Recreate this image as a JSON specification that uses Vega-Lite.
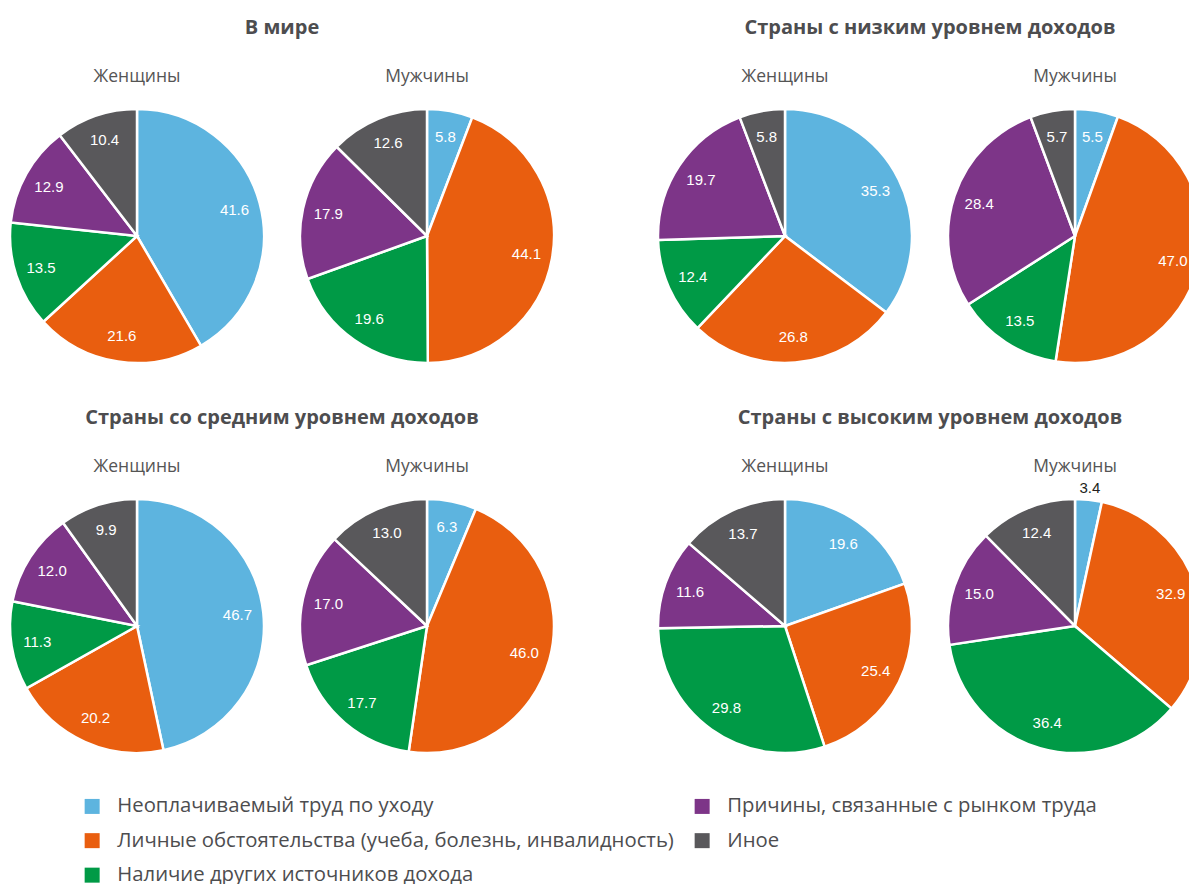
{
  "$schema": "https://vega.github.io/schema/vega-lite/v6.json",
  "autosize": {"type": "pad"},
  "padding": {"left": 5, "top": 17, "right": -14, "bottom": 0},
  "background": "white",
  "data": {
    "values": [
      {"r": "В мире", "s": "Женщины", "c": "Неоплачиваемый труд по уходу", "k": 1, "v": 41.6},
      {"r": "В мире", "s": "Женщины", "c": "Личные обстоятельства (учеба, болезнь, инвалидность)", "k": 2, "v": 21.6},
      {"r": "В мире", "s": "Женщины", "c": "Наличие других источников дохода", "k": 3, "v": 13.5},
      {"r": "В мире", "s": "Женщины", "c": "Причины, связанные с рынком труда", "k": 4, "v": 12.9},
      {"r": "В мире", "s": "Женщины", "c": "Иное", "k": 5, "v": 10.4},
      {"r": "В мире", "s": "Мужчины", "c": "Неоплачиваемый труд по уходу", "k": 1, "v": 5.8},
      {"r": "В мире", "s": "Мужчины", "c": "Личные обстоятельства (учеба, болезнь, инвалидность)", "k": 2, "v": 44.1},
      {"r": "В мире", "s": "Мужчины", "c": "Наличие других источников дохода", "k": 3, "v": 19.6},
      {"r": "В мире", "s": "Мужчины", "c": "Причины, связанные с рынком труда", "k": 4, "v": 17.9},
      {"r": "В мире", "s": "Мужчины", "c": "Иное", "k": 5, "v": 12.6},
      {"r": "Низкий", "s": "Женщины", "c": "Неоплачиваемый труд по уходу", "k": 1, "v": 35.3},
      {"r": "Низкий", "s": "Женщины", "c": "Личные обстоятельства (учеба, болезнь, инвалидность)", "k": 2, "v": 26.8},
      {"r": "Низкий", "s": "Женщины", "c": "Наличие других источников дохода", "k": 3, "v": 12.4},
      {"r": "Низкий", "s": "Женщины", "c": "Причины, связанные с рынком труда", "k": 4, "v": 19.7},
      {"r": "Низкий", "s": "Женщины", "c": "Иное", "k": 5, "v": 5.8},
      {"r": "Низкий", "s": "Мужчины", "c": "Неоплачиваемый труд по уходу", "k": 1, "v": 5.5},
      {"r": "Низкий", "s": "Мужчины", "c": "Личные обстоятельства (учеба, болезнь, инвалидность)", "k": 2, "v": 47.0},
      {"r": "Низкий", "s": "Мужчины", "c": "Наличие других источников дохода", "k": 3, "v": 13.5},
      {"r": "Низкий", "s": "Мужчины", "c": "Причины, связанные с рынком труда", "k": 4, "v": 28.4},
      {"r": "Низкий", "s": "Мужчины", "c": "Иное", "k": 5, "v": 5.7},
      {"r": "Средний", "s": "Женщины", "c": "Неоплачиваемый труд по уходу", "k": 1, "v": 46.7},
      {"r": "Средний", "s": "Женщины", "c": "Личные обстоятельства (учеба, болезнь, инвалидность)", "k": 2, "v": 20.2},
      {"r": "Средний", "s": "Женщины", "c": "Наличие других источников дохода", "k": 3, "v": 11.3},
      {"r": "Средний", "s": "Женщины", "c": "Причины, связанные с рынком труда", "k": 4, "v": 12.0},
      {"r": "Средний", "s": "Женщины", "c": "Иное", "k": 5, "v": 9.9},
      {"r": "Средний", "s": "Мужчины", "c": "Неоплачиваемый труд по уходу", "k": 1, "v": 6.3},
      {"r": "Средний", "s": "Мужчины", "c": "Личные обстоятельства (учеба, болезнь, инвалидность)", "k": 2, "v": 46.0},
      {"r": "Средний", "s": "Мужчины", "c": "Наличие других источников дохода", "k": 3, "v": 17.7},
      {"r": "Средний", "s": "Мужчины", "c": "Причины, связанные с рынком труда", "k": 4, "v": 17.0},
      {"r": "Средний", "s": "Мужчины", "c": "Иное", "k": 5, "v": 13.0},
      {"r": "Высокий", "s": "Женщины", "c": "Неоплачиваемый труд по уходу", "k": 1, "v": 19.6},
      {"r": "Высокий", "s": "Женщины", "c": "Личные обстоятельства (учеба, болезнь, инвалидность)", "k": 2, "v": 25.4},
      {"r": "Высокий", "s": "Женщины", "c": "Наличие других источников дохода", "k": 3, "v": 29.8},
      {"r": "Высокий", "s": "Женщины", "c": "Причины, связанные с рынком труда", "k": 4, "v": 11.6},
      {"r": "Высокий", "s": "Женщины", "c": "Иное", "k": 5, "v": 13.7},
      {"r": "Высокий", "s": "Мужчины", "c": "Неоплачиваемый труд по уходу", "k": 1, "v": 3.4},
      {"r": "Высокий", "s": "Мужчины", "c": "Личные обстоятельства (учеба, болезнь, инвалидность)", "k": 2, "v": 32.9},
      {"r": "Высокий", "s": "Мужчины", "c": "Наличие других источников дохода", "k": 3, "v": 36.4},
      {"r": "Высокий", "s": "Мужчины", "c": "Причины, связанные с рынком труда", "k": 4, "v": 15.0},
      {"r": "Высокий", "s": "Мужчины", "c": "Иное", "k": 5, "v": 12.4}
    ]
  },
  "vconcat": [
    {
      "hconcat": [
        {
          "title": "В мире",
          "transform": [{"filter": "datum.r === 'В мире'"}],
          "facet": {"column": {"field": "s", "type": "nominal", "sort": ["Женщины", "Мужчины"], "header": {"title": null}}},
          "spacing": 26,
          "spec": {
            "width": 256,
            "height": 300,
            "layer": [
              {
                "mark": {"type": "arc", "outerRadius": 127, "stroke": "white", "strokeWidth": 2.5},
                "encoding": {
                  "theta": {"field": "v", "type": "quantitative", "stack": true},
                  "order": {"field": "k", "type": "quantitative"},
                  "color": {"field": "c", "type": "nominal", "legend": {"title": null},
                    "scale": {"domain": ["Неоплачиваемый труд по уходу", "Личные обстоятельства (учеба, болезнь, инвалидность)", "Наличие других источников дохода", "Причины, связанные с рынком труда", "Иное"],
                      "range": ["#5DB4DF", "#E95E0F", "#009A46", "#7D3588", "#59585B"]}}
                }
              },
              {
                "mark": {"type": "text", "radius": 101, "font": "Liberation Sans", "fontSize": 15, "fill": "white"},
                "encoding": {
                  "theta": {"field": "v", "type": "quantitative", "stack": true},
                  "order": {"field": "k", "type": "quantitative"},
                  "text": {"field": "v", "type": "quantitative", "format": ".1f"},
                  "opacity": {"condition": {"test": "datum.v < 4", "value": 0}, "value": 1}
                }
              },
              {
                "mark": {"type": "text", "radius": 139, "clip": true, "font": "Liberation Sans", "fontSize": 15, "fill": "#231F20"},
                "encoding": {
                  "theta": {"field": "v", "type": "quantitative", "stack": true},
                  "order": {"field": "k", "type": "quantitative"},
                  "text": {"field": "v", "type": "quantitative", "format": ".1f"},
                  "opacity": {"condition": {"test": "datum.v < 4", "value": 1}, "value": 0}
                }
              }
            ]
          }
        },
        {
          "title": "Страны с низким уровнем доходов",
          "transform": [{"filter": "datum.r === 'Низкий'"}],
          "facet": {"column": {"field": "s", "type": "nominal", "sort": ["Женщины", "Мужчины"], "header": {"title": null}}},
          "spacing": 26,
          "spec": {
            "width": 256,
            "height": 300,
            "layer": [
              {
                "mark": {"type": "arc", "outerRadius": 127, "stroke": "white", "strokeWidth": 2.5},
                "encoding": {
                  "theta": {"field": "v", "type": "quantitative", "stack": true},
                  "order": {"field": "k", "type": "quantitative"},
                  "color": {"field": "c", "type": "nominal", "legend": {"title": null},
                    "scale": {"domain": ["Неоплачиваемый труд по уходу", "Личные обстоятельства (учеба, болезнь, инвалидность)", "Наличие других источников дохода", "Причины, связанные с рынком труда", "Иное"],
                      "range": ["#5DB4DF", "#E95E0F", "#009A46", "#7D3588", "#59585B"]}}
                }
              },
              {
                "mark": {"type": "text", "radius": 101, "font": "Liberation Sans", "fontSize": 15, "fill": "white"},
                "encoding": {
                  "theta": {"field": "v", "type": "quantitative", "stack": true},
                  "order": {"field": "k", "type": "quantitative"},
                  "text": {"field": "v", "type": "quantitative", "format": ".1f"},
                  "opacity": {"condition": {"test": "datum.v < 4", "value": 0}, "value": 1}
                }
              },
              {
                "mark": {"type": "text", "radius": 139, "clip": true, "font": "Liberation Sans", "fontSize": 15, "fill": "#231F20"},
                "encoding": {
                  "theta": {"field": "v", "type": "quantitative", "stack": true},
                  "order": {"field": "k", "type": "quantitative"},
                  "text": {"field": "v", "type": "quantitative", "format": ".1f"},
                  "opacity": {"condition": {"test": "datum.v < 4", "value": 1}, "value": 0}
                }
              }
            ]
          }
        }
      ],
      "spacing": 94
    },
    {
      "hconcat": [
        {
          "title": "Страны со средним уровнем доходов",
          "transform": [{"filter": "datum.r === 'Средний'"}],
          "facet": {"column": {"field": "s", "type": "nominal", "sort": ["Женщины", "Мужчины"], "header": {"title": null}}},
          "spacing": 26,
          "spec": {
            "width": 256,
            "height": 300,
            "layer": [
              {
                "mark": {"type": "arc", "outerRadius": 127, "stroke": "white", "strokeWidth": 2.5},
                "encoding": {
                  "theta": {"field": "v", "type": "quantitative", "stack": true},
                  "order": {"field": "k", "type": "quantitative"},
                  "color": {"field": "c", "type": "nominal", "legend": {"title": null},
                    "scale": {"domain": ["Неоплачиваемый труд по уходу", "Личные обстоятельства (учеба, болезнь, инвалидность)", "Наличие других источников дохода", "Причины, связанные с рынком труда", "Иное"],
                      "range": ["#5DB4DF", "#E95E0F", "#009A46", "#7D3588", "#59585B"]}}
                }
              },
              {
                "mark": {"type": "text", "radius": 101, "font": "Liberation Sans", "fontSize": 15, "fill": "white"},
                "encoding": {
                  "theta": {"field": "v", "type": "quantitative", "stack": true},
                  "order": {"field": "k", "type": "quantitative"},
                  "text": {"field": "v", "type": "quantitative", "format": ".1f"},
                  "opacity": {"condition": {"test": "datum.v < 4", "value": 0}, "value": 1}
                }
              },
              {
                "mark": {"type": "text", "radius": 139, "clip": true, "font": "Liberation Sans", "fontSize": 15, "fill": "#231F20"},
                "encoding": {
                  "theta": {"field": "v", "type": "quantitative", "stack": true},
                  "order": {"field": "k", "type": "quantitative"},
                  "text": {"field": "v", "type": "quantitative", "format": ".1f"},
                  "opacity": {"condition": {"test": "datum.v < 4", "value": 1}, "value": 0}
                }
              }
            ]
          }
        },
        {
          "title": "Страны с высоким уровнем доходов",
          "transform": [{"filter": "datum.r === 'Высокий'"}],
          "facet": {"column": {"field": "s", "type": "nominal", "sort": ["Женщины", "Мужчины"], "header": {"title": null}}},
          "spacing": 26,
          "spec": {
            "width": 256,
            "height": 300,
            "layer": [
              {
                "mark": {"type": "arc", "outerRadius": 127, "stroke": "white", "strokeWidth": 2.5},
                "encoding": {
                  "theta": {"field": "v", "type": "quantitative", "stack": true},
                  "order": {"field": "k", "type": "quantitative"},
                  "color": {"field": "c", "type": "nominal", "legend": {"title": null},
                    "scale": {"domain": ["Неоплачиваемый труд по уходу", "Личные обстоятельства (учеба, болезнь, инвалидность)", "Наличие других источников дохода", "Причины, связанные с рынком труда", "Иное"],
                      "range": ["#5DB4DF", "#E95E0F", "#009A46", "#7D3588", "#59585B"]}}
                }
              },
              {
                "mark": {"type": "text", "radius": 101, "font": "Liberation Sans", "fontSize": 15, "fill": "white"},
                "encoding": {
                  "theta": {"field": "v", "type": "quantitative", "stack": true},
                  "order": {"field": "k", "type": "quantitative"},
                  "text": {"field": "v", "type": "quantitative", "format": ".1f"},
                  "opacity": {"condition": {"test": "datum.v < 4", "value": 0}, "value": 1}
                }
              },
              {
                "mark": {"type": "text", "radius": 139, "clip": true, "font": "Liberation Sans", "fontSize": 15, "fill": "#231F20"},
                "encoding": {
                  "theta": {"field": "v", "type": "quantitative", "stack": true},
                  "order": {"field": "k", "type": "quantitative"},
                  "text": {"field": "v", "type": "quantitative", "format": ".1f"},
                  "opacity": {"condition": {"test": "datum.v < 4", "value": 1}, "value": 0}
                }
              }
            ]
          }
        }
      ],
      "spacing": 94
    }
  ],
  "spacing": 21,
  "config": {
    "view": {"stroke": null},
    "title": {"font": "Open Sans", "fontSize": 20, "fontWeight": "bold", "color": "#4D4D4F", "anchor": "middle", "offset": 30},
    "header": {"labelFont": "Open Sans", "labelFontSize": 17.5, "labelColor": "#555555", "labelPadding": 1},
    "legend": {
      "orient": "none",
      "legendX": 73,
      "legendY": 710,
      "columns": 2,
      "padding": 0,
      "symbolType": "square",
      "symbolSize": 225,
      "symbolStrokeWidth": 0,
      "symbolOpacity": 1,
      "labelFont": "Open Sans",
      "labelFontSize": 20.3,
      "labelColor": "#4D4D4F",
      "labelOffset": 15,
      "labelLimit": 800,
      "rowPadding": 13.5,
      "columnPadding": 18
    }
  }
}
